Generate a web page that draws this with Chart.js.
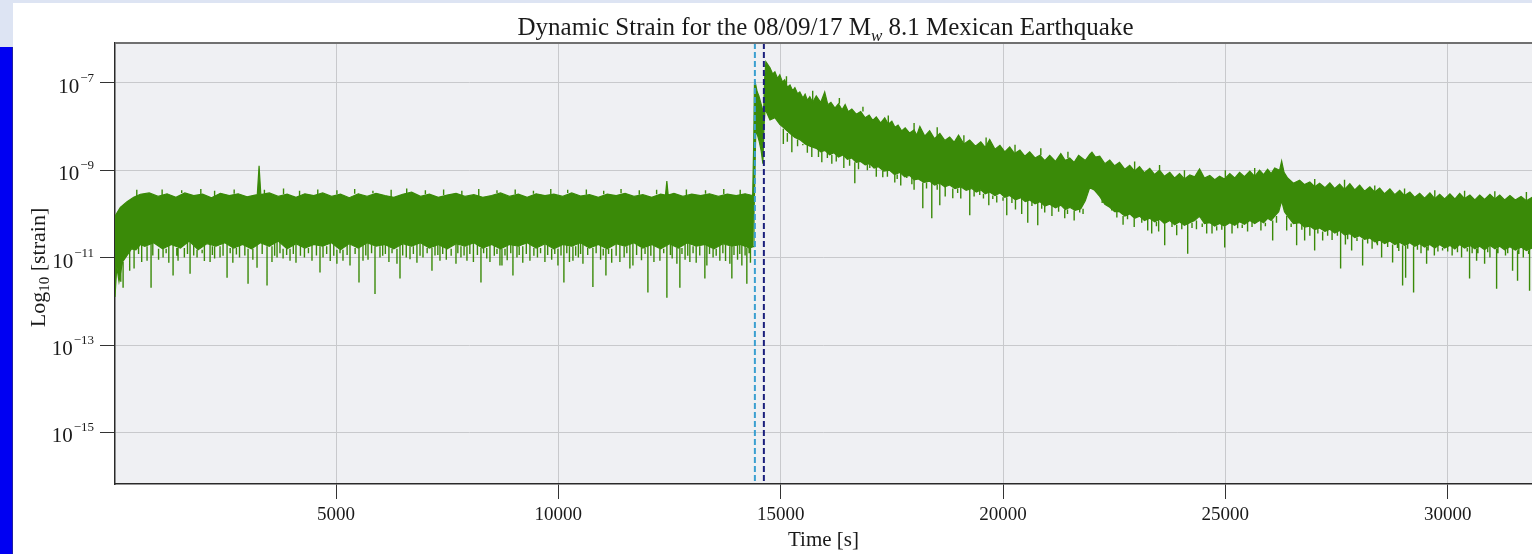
<!DOCTYPE html>
<html>
<head>
<meta charset="utf-8">
<script src="https://cdn.jsdelivr.net/npm/chart.js@4.4.1/dist/chart.umd.min.js"></script>
<style>
  html, body { margin: 0; padding: 0; background: #fff; overflow: hidden; }
  #wrap { position: relative; width: 1532px; height: 554px; }
  #topBand { position: absolute; left: 0; top: 0; width: 1532px; height: 3px; background: #dde4f3; }
  #leftBand { position: absolute; left: 0; top: 0; width: 13px; height: 47px; background: #dde4f3; }
  #leftBar { position: absolute; left: 0; top: 47px; width: 12px; height: 507px; background: #0000f2; border-right: 1px solid #2020a0; }
  canvas { position: absolute; left: 0; top: 0; }
</style>
</head>
<body>
<div id="wrap">
  <canvas id="chartStrain" width="1532" height="554"></canvas>
  <div id="topBand"></div>
  <div id="leftBand"></div>
  <div id="leftBar"></div>
</div>
<script>
// tick positions
const xTickValues = [5000, 10000, 15000, 20000, 25000, 30000];
const yTickExponents = [-7, -9, -11, -13, -15];

// dashed markers (s): P arrival and surface wave arrival
const eventTimes = [14420, 14622];
const eventColors = ["#3a9fd0", "#1b1f7c"];

// upper edge of the noisy trace, [time s, log10 strain]
const topEnvelope = [
  [30,-10.05],[150,-9.85],[300,-9.72],[450,-9.62],[600,-9.55],[800,-9.52],[1000,-9.60],[1200,-9.54],
  [1400,-9.62],[1600,-9.52],[1800,-9.58],[2000,-9.55],[2200,-9.63],[2400,-9.53],[2600,-9.58],[2800,-9.54],
  [3000,-9.61],[3230,-9.56],[3270,-8.90],[3310,-9.56],[3500,-9.52],[3700,-9.60],[3900,-9.55],[4100,-9.62],
  [4300,-9.54],[4500,-9.58],[4700,-9.52],[4900,-9.60],[5100,-9.55],[5300,-9.63],[5500,-9.54],[5700,-9.60],
  [5900,-9.53],[6100,-9.58],[6300,-9.62],[6500,-9.55],[6700,-9.50],[6900,-9.60],[7100,-9.55],[7300,-9.62],
  [7500,-9.57],[7700,-9.53],[7900,-9.60],[8100,-9.56],[8300,-9.62],[8500,-9.58],[8700,-9.52],[8900,-9.60],
  [9100,-9.55],[9300,-9.62],[9500,-9.54],[9700,-9.58],[9900,-9.55],[10100,-9.60],[10300,-9.52],[10500,-9.59],
  [10700,-9.56],[10900,-9.62],[11100,-9.55],[11300,-9.58],[11500,-9.53],[11700,-9.60],[11900,-9.56],[12100,-9.62],
  [12300,-9.55],[12410,-9.57],[12440,-9.25],[12470,-9.57],[12600,-9.53],[12800,-9.60],[13000,-9.55],[13200,-9.58],
  [13400,-9.54],[13600,-9.60],[13800,-9.55],[14000,-9.58],[14200,-9.54],[14370,-9.58],
  [14395,-8.30],[14410,-7.05],[14430,-7.00],[14470,-7.20],[14510,-7.30],[14550,-7.45],[14590,-7.60],[14615,-7.70],
  [14640,-6.90],[14667,-6.52],[14760,-6.66],[14820,-6.80],[14870,-6.75],[14930,-6.90],[14980,-6.82],[15040,-6.98],
  [15090,-6.93],[15150,-7.10],[15210,-7.05],[15270,-7.18],[15320,-7.11],[15380,-7.25],[15430,-7.21],[15500,-7.35],
  [15550,-7.26],[15600,-7.40],[15655,-7.32],[15720,-7.45],[15800,-7.30],[15900,-7.45],[15990,-7.21],[16060,-7.50],
  [16130,-7.45],[16220,-7.58],[16300,-7.48],[16380,-7.62],[16450,-7.50],[16520,-7.66],[16600,-7.60],[16700,-7.72],
  [16800,-7.66],[16900,-7.80],[16990,-7.74],[17070,-7.86],[17150,-7.78],[17250,-7.92],[17340,-7.80],[17420,-7.95],
  [17500,-7.88],[17570,-8.02],[17640,-7.97],[17720,-8.10],[17800,-8.03],[17900,-8.15],[18000,-8.08],[18060,-8.20],
  [18130,-8.00],[18240,-8.22],[18350,-8.10],[18460,-8.28],[18580,-8.16],[18690,-8.32],[18800,-8.24],[18900,-8.36],
  [19000,-8.20],[19120,-8.40],[19250,-8.31],[19380,-8.45],[19500,-8.35],[19600,-8.48],[19700,-8.30],[19820,-8.52],
  [19930,-8.43],[20040,-8.58],[20150,-8.47],[20260,-8.62],[20380,-8.54],[20490,-8.68],[20600,-8.58],[20720,-8.72],
  [20830,-8.66],[20940,-8.78],[21050,-8.66],[21180,-8.80],[21300,-8.62],[21400,-8.78],[21500,-8.72],[21600,-8.82],
  [21700,-8.66],[21850,-8.78],[21950,-8.64],[22000,-8.59],[22080,-8.70],[22175,-8.68],[22290,-8.85],[22400,-8.77],
  [22510,-8.90],[22620,-8.82],[22740,-8.98],[22850,-8.89],[22960,-9.02],[23070,-8.92],[23180,-9.06],[23300,-8.96],
  [23410,-9.10],[23520,-9.00],[23630,-9.14],[23750,-9.05],[23860,-9.18],[23970,-9.08],[24080,-9.20],[24200,-9.11],
  [24310,-9.15],[24420,-8.97],[24530,-9.18],[24650,-9.12],[24760,-9.22],[24870,-9.14],[24980,-9.20],[25100,-9.08],
  [25210,-9.18],[25320,-9.05],[25430,-9.15],[25550,-9.02],[25660,-9.14],[25770,-9.00],[25860,-9.10],[25950,-8.98],
  [26030,-9.08],[26110,-8.95],[26220,-9.00],[26266,-8.79],[26320,-9.05],[26400,-9.18],[26530,-9.30],[26670,-9.23],
  [26780,-9.33],[26900,-9.27],[27010,-9.38],[27120,-9.30],[27240,-9.40],[27350,-9.29],[27460,-9.42],[27570,-9.32],
  [27680,-9.44],[27800,-9.31],[27910,-9.45],[28020,-9.34],[28130,-9.48],[28250,-9.38],[28360,-9.50],[28470,-9.41],
  [28580,-9.54],[28700,-9.43],[28810,-9.56],[28920,-9.46],[29030,-9.58],[29150,-9.50],[29260,-9.62],[29370,-9.53],
  [29480,-9.64],[29600,-9.52],[29710,-9.65],[29820,-9.55],[29930,-9.66],[30050,-9.54],[30160,-9.66],[30270,-9.53],
  [30380,-9.65],[30500,-9.57],[30610,-9.68],[30720,-9.57],[30830,-9.67],[30950,-9.55],[31060,-9.66],[31170,-9.57],
  [31280,-9.68],[31400,-9.58],[31520,-9.68],[31650,-9.60],[31770,-9.70],[31900,-9.62]
];

// lower edge of the solid part of the trace
const bodyEnvelope = [
  [30,-11.90],[70,-11.20],[120,-11.55],[200,-11.10],[300,-10.95],[400,-10.80],[500,-10.82],[600,-10.70],
  [700,-10.74],[900,-10.66],[1100,-10.80],[1300,-10.70],[1500,-10.78],[1700,-10.62],[1900,-10.82],[2100,-10.68],
  [2300,-10.74],[2500,-10.66],[2700,-10.78],[2900,-10.70],[3100,-10.80],[3300,-10.66],[3500,-10.74],[3700,-10.62],
  [3900,-10.80],[4100,-10.68],[4300,-10.78],[4500,-10.70],[4700,-10.74],[4900,-10.66],[5100,-10.82],[5300,-10.68],
  [5500,-10.78],[5700,-10.66],[5900,-10.74],[6100,-10.70],[6300,-10.80],[6500,-10.68],[6700,-10.74],[6900,-10.66],
  [7100,-10.78],[7300,-10.70],[7500,-10.80],[7700,-10.68],[7900,-10.74],[8100,-10.66],[8300,-10.78],[8500,-10.70],
  [8700,-10.80],[8900,-10.70],[9100,-10.74],[9300,-10.66],[9500,-10.78],[9700,-10.68],[9900,-10.80],[10100,-10.70],
  [10300,-10.74],[10500,-10.66],[10700,-10.78],[10900,-10.70],[11100,-10.80],[11300,-10.68],[11500,-10.74],[11700,-10.66],
  [11900,-10.78],[12100,-10.70],[12300,-10.80],[12500,-10.68],[12700,-10.78],[12900,-10.66],[13100,-10.74],[13300,-10.70],
  [13500,-10.80],[13700,-10.68],[13900,-10.74],[14100,-10.70],[14300,-10.78],[14380,-10.75],
  [14400,-10.00],[14415,-9.40],[14440,-8.10],[14480,-8.20],[14520,-8.35],[14560,-8.55],[14600,-8.85],[14625,-8.00],
  [14650,-7.60],[14760,-7.85],[14870,-7.80],[14980,-7.95],[15090,-8.05],[15200,-8.15],[15320,-8.25],[15430,-8.30],
  [15550,-8.40],[15660,-8.45],[15800,-8.50],[15900,-8.58],[16000,-8.55],[16100,-8.65],[16200,-8.60],[16300,-8.70],
  [16400,-8.65],[16500,-8.75],[16600,-8.72],[16700,-8.82],[16800,-8.80],[16900,-8.88],[17000,-8.85],[17100,-8.95],
  [17200,-8.92],[17320,-9.02],[17450,-9.00],[17560,-9.10],[17680,-9.05],[17790,-9.15],[17900,-9.12],[18000,-9.22],
  [18100,-9.20],[18220,-9.28],[18350,-9.25],[18460,-9.34],[18580,-9.30],[18690,-9.38],[18800,-9.34],[18920,-9.42],
  [19050,-9.38],[19170,-9.46],[19300,-9.42],[19400,-9.50],[19500,-9.45],[19600,-9.54],[19700,-9.50],[19820,-9.58],
  [19930,-9.52],[20040,-9.62],[20150,-9.58],[20280,-9.68],[20400,-9.63],[20500,-9.72],[20600,-9.68],[20720,-9.77],
  [20830,-9.72],[20940,-9.82],[21050,-9.78],[21180,-9.86],[21300,-9.80],[21400,-9.90],[21500,-9.85],[21620,-9.92],
  [21750,-9.88],[21850,-9.70],[21950,-9.40],[22050,-9.45],[22175,-9.60],[22290,-9.78],[22400,-9.85],[22510,-9.95],
  [22620,-9.95],[22740,-10.05],[22850,-10.00],[22960,-10.10],[23070,-10.05],[23180,-10.15],[23300,-10.10],[23410,-10.18],
  [23520,-10.12],[23630,-10.22],[23750,-10.15],[23860,-10.25],[23970,-10.18],[24080,-10.26],[24200,-10.20],[24310,-10.15],
  [24420,-10.05],[24530,-10.22],[24650,-10.20],[24760,-10.28],[24870,-10.22],[24980,-10.28],[25100,-10.20],[25210,-10.26],
  [25320,-10.18],[25430,-10.24],[25550,-10.15],[25660,-10.22],[25770,-10.15],[25860,-10.20],[25950,-10.10],[26030,-10.15],
  [26110,-10.05],[26200,-9.95],[26266,-9.70],[26330,-9.95],[26400,-10.05],[26530,-10.22],[26670,-10.20],[26780,-10.30],
  [26900,-10.28],[27010,-10.36],[27120,-10.32],[27240,-10.40],[27350,-10.35],[27460,-10.44],[27570,-10.38],[27680,-10.48],
  [27800,-10.45],[27910,-10.54],[28020,-10.50],[28130,-10.58],[28250,-10.55],[28360,-10.64],[28470,-10.60],[28580,-10.68],
  [28700,-10.62],[28810,-10.70],[28920,-10.65],[29030,-10.72],[29150,-10.66],[29260,-10.74],[29370,-10.68],[29480,-10.76],
  [29600,-10.70],[29710,-10.78],[29820,-10.70],[29930,-10.78],[30050,-10.72],[30160,-10.80],[30270,-10.70],[30380,-10.78],
  [30500,-10.72],[30610,-10.80],[30720,-10.74],[30830,-10.82],[30950,-10.72],[31060,-10.80],[31170,-10.74],[31280,-10.82],
  [31400,-10.75],[31520,-10.83],[31650,-10.76],[31770,-10.84],[31900,-10.78]
];

// downward excursions below the solid band, [time s, log10 strain]
const spikeLows = [
  [212,-11.69],[360,-11.30],[459,-11.25],[630,-11.10],[751,-11.07],[841,-11.69],[1010,-11.05],[1111,-11.00],
  [1240,-11.12],[1336,-11.41],[1448,-11.07],[1590,-11.00],[1718,-11.37],[1875,-11.00],[2040,-11.08],[2168,-11.10],
  [2270,-11.02],[2392,-11.00],[2550,-11.46],[2680,-11.12],[2830,-11.00],[3022,-11.60],[3130,-11.05],[3224,-11.23],
  [3449,-11.64],[3560,-11.10],[3674,-11.00],[3810,-11.02],[3966,-11.07],[4100,-11.12],[4290,-11.00],[4460,-11.07],
  [4640,-11.34],[4708,-11.00],[4870,-11.08],[5020,-11.14],[5157,-11.07],[5315,-11.18],[5517,-11.57],[5607,-11.07],
  [5720,-11.05],[5877,-11.83],[5989,-11.00],[6190,-11.10],[6371,-11.14],[6439,-11.48],[6580,-11.00],[6664,-11.04],
  [6820,-11.12],[6956,-11.00],[7158,-11.30],[7226,-10.95],[7338,-11.07],[7480,-11.05],[7698,-11.14],[7810,-11.00],
  [7945,-11.07],[8090,-11.10],[8260,-11.57],[8390,-11.02],[8462,-11.10],[8687,-11.18],[8732,-11.18],[8850,-11.06],
  [8979,-11.41],[9069,-11.00],[9200,-11.12],[9361,-11.07],[9530,-11.00],[9698,-11.10],[9850,-11.05],[9991,-11.18],
  [10125,-11.57],[10250,-11.10],[10328,-11.07],[10450,-11.00],[10553,-11.14],[10777,-11.67],[10950,-11.05],[11070,-11.41],
  [11200,-11.12],[11384,-11.10],[11480,-11.00],[11609,-11.25],[11677,-11.18],[11870,-11.06],[12014,-11.80],[12150,-11.10],
  [12284,-11.07],[12441,-11.92],[12560,-11.02],[12666,-11.14],[12733,-11.69],[12850,-11.05],[12958,-11.10],[13100,-11.12],
  [13295,-11.48],[13340,-11.18],[13480,-11.00],[13632,-11.07],[13760,-11.08],[13857,-11.14],[13902,-11.48],[14030,-11.05],
  [14127,-11.18],[14239,-11.60],[14320,-11.12],
  [15060,-8.40],[15251,-8.59],[15498,-8.43],[15700,-8.70],[15925,-8.82],[16150,-8.85],[16420,-8.95],[16667,-9.30],
  [17004,-8.95],[17150,-9.15],[17296,-9.16],[17566,-9.28],[17700,-9.35],[17836,-9.18],[18000,-9.45],[18196,-9.87],
  [18398,-10.10],[18578,-9.80],[18700,-9.60],[18870,-9.64],[19050,-9.65],[19252,-10.03],[19477,-9.57],[19680,-9.80],
  [19859,-9.74],[20084,-10.03],[20280,-9.90],[20420,-10.00],[20556,-10.20],[20781,-10.26],[20938,-9.97],[21100,-10.05],
  [21388,-10.10],[21600,-10.15],[21725,-9.97],[22444,-9.92],[22700,-10.25],[22950,-10.30],[23254,-10.38],[23344,-10.45],
  [23500,-10.40],[23636,-10.72],[23906,-10.49],[24153,-10.91],[24350,-10.35],[24580,-10.45],[24700,-10.45],[24805,-10.38],
  [24985,-10.77],[25150,-10.45],[25277,-10.33],[25500,-10.40],[25800,-10.38],[26064,-10.61],[26379,-10.38],[26603,-10.72],
  [26783,-10.61],[26900,-10.50],[27008,-10.84],[27188,-10.61],[27400,-10.60],[27592,-11.25],[27700,-10.70],[27840,-10.84],
  [28087,-11.18],[28300,-10.80],[28402,-10.68],[28514,-11.00],[28761,-11.11],[28900,-10.85],[28986,-11.64],[29054,-11.46],
  [29233,-11.80],[29400,-10.90],[29526,-11.14],[29700,-10.95],[29885,-10.84],[30100,-10.95],[30312,-11.00],[30492,-11.48],
  [30550,-10.90],[30650,-11.07],[30830,-11.14],[30950,-11.00],[31100,-11.71],[31300,-10.95],[31459,-11.30],[31571,-11.53],
  [31700,-11.00],[31841,-11.76]
];

// short fringe strokes just under the solid band
const fringeLows = [
  [160,-11.00],[280,-10.95],[560,-10.92],[880,-10.95],[1180,-10.90],[1420,-10.96],[1660,-10.92],[1800,-10.95],
  [1990,-10.90],[2220,-10.94],[2460,-10.96],[2620,-10.90],[2760,-10.93],[2950,-10.95],[3340,-10.92],[3620,-10.96],
  [3740,-10.90],[3890,-10.94],[4040,-10.92],[4200,-10.96],[4380,-10.90],[4560,-10.95],[4790,-10.92],[4950,-10.96],
  [5090,-10.90],[5250,-10.94],[5430,-10.92],[5670,-10.95],[5800,-10.90],[6050,-10.96],[6110,-10.92],[6260,-10.90],
  [6500,-10.95],[6740,-10.92],[6890,-10.96],[7050,-10.90],[7290,-10.94],[7400,-10.92],[7590,-10.96],[7740,-10.90],
  [7880,-10.95],[8010,-10.92],[8180,-10.94],[8320,-10.90],[8560,-10.96],[8620,-10.92],[8800,-10.95],[8930,-10.90],
  [9120,-10.94],[9280,-10.92],[9450,-10.96],[9600,-10.90],[9760,-10.94],[9920,-10.92],[10060,-10.95],[10190,-10.90],
  [10390,-10.96],[10500,-10.92],[10660,-10.94],[10850,-10.90],[11010,-10.95],[11130,-10.92],[11300,-10.96],[11540,-10.90],
  [11760,-10.94],[11950,-10.92],[12080,-10.96],[12370,-10.90],[12520,-10.94],[12780,-10.92],[12910,-10.96],[13030,-10.90],
  [13180,-10.95],[13400,-10.92],[13550,-10.96],[13700,-10.90],[13950,-10.94],[14080,-10.92],[14200,-10.95],[14290,-10.90],
  [15150,-8.35],[15380,-8.45],[15600,-8.60],[15850,-8.70],[16050,-8.72],[16250,-8.80],[16550,-8.90],[16750,-8.98],
  [16950,-9.00],[17400,-9.15],[17620,-9.20],[17950,-9.32],[18280,-9.42],[18520,-9.45],[18980,-9.52],[19350,-9.60],
  [19560,-9.65],[19770,-9.66],[20000,-9.70],[20200,-9.75],[20650,-9.82],[20870,-9.88],[21250,-9.95],[21450,-10.00],
  [21800,-10.00],[22230,-9.75],[22560,-10.08],[22800,-10.12],[23120,-10.20],[23450,-10.28],[23800,-10.30],[24020,-10.35],
  [24250,-10.32],[24480,-10.30],[24920,-10.36],[25380,-10.32],[25600,-10.30],[25900,-10.28],[26150,-10.20],[26480,-10.30],
  [26720,-10.36],[27080,-10.45],[27300,-10.50],[27520,-10.50],[27750,-10.58],[27960,-10.62],[28200,-10.68],[28420,-10.72],
  [28650,-10.76],[28870,-10.78],[29100,-10.80],[29320,-10.82],[29560,-10.84],[29780,-10.86],[30000,-10.86],[30220,-10.88],
  [30440,-10.86],[30680,-10.90],[30900,-10.88],[31130,-10.90],[31350,-10.90],[31600,-10.92],[31820,-10.92]
];

// short upward excursions above the band
const spikeHighs = [
  [520,-9.45],[1090,-9.44],[1530,-9.46],[1960,-9.43],[2270,-9.47],[2710,-9.44],[3390,-9.45],[3820,-9.42],
  [4180,-9.47],[4590,-9.44],[5020,-9.46],[5420,-9.43],[5830,-9.47],[6240,-9.45],[6590,-9.42],[7010,-9.46],
  [7420,-9.44],[7830,-9.47],[8210,-9.43],[8620,-9.46],[9030,-9.44],[9440,-9.47],[9830,-9.43],[10210,-9.45],
  [10630,-9.44],[11020,-9.47],[11410,-9.43],[11820,-9.46],[12210,-9.45],[12880,-9.44],[13310,-9.46],[13720,-9.43],
  [14090,-9.45],
  [15130,-6.85],[15720,-7.18],[16320,-7.35],[16850,-7.55],[17420,-7.75],[18000,-7.92],[18520,-8.02],[19120,-8.20],
  [19620,-8.25],[20270,-8.42],[20850,-8.50],[21460,-8.58],[22960,-8.80],[23520,-8.88],[24080,-9.00],[25000,-9.00],
  [25660,-8.95],[27010,-9.20],[27680,-9.22],[28360,-9.35],[29030,-9.42],[29710,-9.46],[30380,-9.47],[31060,-9.48],
  [31770,-9.50]
];

const X_MIN = 30, X_MAX = 31896;
const Y_MIN = -16.18, Y_MAX = -6.09;
const GREEN = "#3a8a08";
const SERIF = '"Liberation Serif", "Times New Roman", serif';

function toPoints(pairs) {
    return pairs.map(p => ({ x: p[0], y: p[1] }));
}

function nearestValue(pairs, t) {
    let best = pairs[0];
    pairs.forEach(p => {
        if (Math.abs(p[0] - t) < Math.abs(best[0] - t)) best = p;
    });
    return best[1];
}

// every excursion is a vertical stroke from the band edge to its extreme value
function strokes(list, edge) {
    const pts = [];
    list.forEach(s => {
        pts.push({ x: s[0], y: nearestValue(edge, s[0]) });
        pts.push({ x: s[0], y: s[1] });
        pts.push({ x: s[0], y: null });
    });
    return pts;
}

const plotBackground = {
    id: "plotBackground",
    beforeDraw(chart) {
        const { ctx, chartArea: a } = chart;
        ctx.save();
        ctx.fillStyle = "#eff0f3";
        ctx.fillRect(a.left, a.top, a.right - a.left, a.bottom - a.top);
        ctx.restore();
    }
};

const topFrame = {
    id: "topFrame",
    afterDraw(chart) {
        const { ctx, chartArea: a } = chart;
        ctx.save();
        ctx.strokeStyle = "#707070";
        ctx.lineWidth = 2;
        ctx.beginPath();
        ctx.moveTo(a.left, a.top);
        ctx.lineTo(a.right, a.top);
        ctx.stroke();
        ctx.restore();
    }
};

// 10 with a raised exponent, like matplotlib's log labels
const powerLabels = {
    id: "powerLabels",
    afterDraw(chart) {
        const { ctx } = chart;
        const y = chart.scales.y;
        const right = chart.chartArea.left - 21;
        ctx.save();
        ctx.fillStyle = "#1a1a1a";
        ctx.textAlign = "left";
        ctx.textBaseline = "alphabetic";
        yTickExponents.forEach(e => {
            const py = y.getPixelForValue(e);
            const sup = "\u2212" + Math.abs(e);
            ctx.font = "13px " + SERIF;
            const sw = ctx.measureText(sup).width;
            ctx.fillText(sup, right - sw, py - 1);
            ctx.font = "21px " + SERIF;
            const bw = ctx.measureText("10").width;
            ctx.fillText("10", right - sw - bw - 1, py + 10);
        });
        ctx.restore();
    }
};

// draws a run of text pieces, each with its own font and baseline shift
function drawPieces(ctx, parts, x, y) {
    parts.forEach(p => {
        ctx.font = p.font;
        ctx.fillText(p.text, x, y + p.dy);
        x += ctx.measureText(p.text).width;
    });
}

function piecesWidth(ctx, parts) {
    let w = 0;
    parts.forEach(p => { ctx.font = p.font; w += ctx.measureText(p.text).width; });
    return w;
}

const textLabels = {
    id: "textLabels",
    afterDraw(chart) {
        const { ctx, chartArea: a } = chart;
        ctx.save();
        ctx.fillStyle = "#1a1a1a";
        ctx.textAlign = "left";
        ctx.textBaseline = "alphabetic";

        const title = [
            { text: "Dynamic Strain for the 08/09/17 M", font: "25px " + SERIF, dy: 0 },
            { text: "w", font: "italic 17px " + SERIF, dy: 6 },
            { text: " 8.1 Mexican Earthquake", font: "25px " + SERIF, dy: 0 }
        ];
        const tw = piecesWidth(ctx, title);
        drawPieces(ctx, title, (a.left + a.right) / 2 + 2 - tw / 2, 35);

        const yTitle = [
            { text: "Log", font: "22px " + SERIF, dy: 0 },
            { text: "10", font: "15px " + SERIF, dy: 4 },
            { text: " [strain]", font: "22px " + SERIF, dy: 0 }
        ];
        const yw = piecesWidth(ctx, yTitle);
        ctx.translate(45, (a.top + a.bottom) / 2 + 4);
        ctx.rotate(-Math.PI / 2);
        drawPieces(ctx, yTitle, -yw / 2, 0);
        ctx.restore();
    }
};

const markerSets = eventTimes.map((t, i) => ({
    label: "marker" + i,
    data: [{ x: t, y: Y_MAX }, { x: t, y: Y_MIN }],
    borderColor: eventColors[i],
    borderWidth: 2,
    borderDash: [6, 3],
    pointRadius: 0,
    fill: false,
    order: 0
}));

document.addEventListener("DOMContentLoaded", () => {
    const ctx = document.getElementById("chartStrain");

    new Chart(ctx, {
        type: "line",
        data: {
            datasets: [
                {
                    label: "top",
                    data: toPoints(topEnvelope),
                    borderColor: GREEN,
                    backgroundColor: GREEN,
                    borderWidth: 1.2,
                    pointRadius: 0,
                    fill: "+1",
                    order: 1
                },
                {
                    label: "body",
                    data: toPoints(bodyEnvelope),
                    borderColor: GREEN,
                    borderWidth: 1.2,
                    pointRadius: 0,
                    fill: false,
                    order: 1
                },
                {
                    label: "spikes",
                    data: strokes(spikeLows, bodyEnvelope)
                        .concat(strokes(fringeLows, bodyEnvelope))
                        .concat(strokes(spikeHighs, topEnvelope)),
                    borderColor: GREEN,
                    borderWidth: 1.4,
                    pointRadius: 0,
                    spanGaps: false,
                    fill: false,
                    order: 1
                },
                ...markerSets
            ]
        },
        options: {
            responsive: false,
            animation: false,
            events: [],
            layout: { padding: { top: 43, left: 0, right: 0, bottom: 0 } },
            plugins: {
                legend: { display: false },
                tooltip: { enabled: false }
            },
            scales: {
                x: {
                    type: "linear",
                    min: X_MIN,
                    max: X_MAX,
                    afterBuildTicks: s => { s.ticks = xTickValues.map(v => ({ value: v })); },
                    afterFit: s => { s.height = 70; },
                    ticks: {
                        font: { family: SERIF, size: 19 },
                        color: "#1a1a1a",
                        padding: 5,
                        maxRotation: 0,
                        autoSkip: false,
                        callback: v => String(v)
                    },
                    grid: { color: "#c8c9cc", lineWidth: 1, tickColor: "#333", tickLength: 15, drawTicks: true },
                    border: { color: "#2a2a2a", width: 1.5 },
                    title: {
                        display: true,
                        text: "Time [s]",
                        font: { family: SERIF, size: 21 },
                        color: "#1a1a1a",
                        padding: { top: 0, bottom: 1 }
                    }
                },
                y: {
                    type: "linear",
                    min: Y_MIN,
                    max: Y_MAX,
                    afterBuildTicks: s => { s.ticks = yTickExponents.map(v => ({ value: v })); },
                    afterFit: s => { s.width = 115; },
                    ticks: { display: false },
                    grid: { color: "#c8c9cc", lineWidth: 1, tickColor: "#333", tickLength: 15, drawTicks: true },
                    border: { color: "#2a2a2a", width: 1.5 }
                }
            }
        },
        plugins: [plotBackground, topFrame, powerLabels, textLabels]
    });
});
</script>
</body>
</html>
